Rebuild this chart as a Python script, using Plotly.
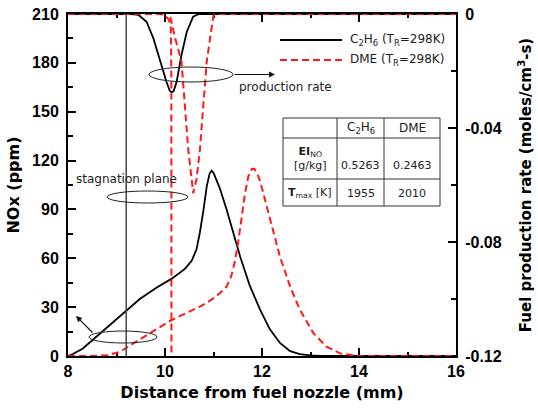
import plotly.graph_objects as go

# ---------------- data ----------------
# NOx (ppm) vs distance from fuel nozzle (mm)
c2h6_nox_x = [8.0, 8.1, 8.3, 8.52, 8.8, 9.14, 9.48, 9.83, 10.14, 10.41, 10.55, 10.65, 10.72, 10.79,
              10.86, 10.92, 10.96, 11.0, 11.06, 11.13, 11.27, 11.41, 11.55, 11.75, 11.96, 12.16,
              12.37, 12.58, 12.78, 12.99, 13.2, 16.0]
c2h6_nox_y = [0, 1.2, 4.5, 10.3, 17.5, 26.5, 35, 42, 47.5, 53.5, 58.5, 65.5, 76, 89,
              104, 112, 113.8, 112.5, 108, 103, 90, 75, 61, 43, 28.5, 16.5,
              8, 3, 1.2, 0.4, 0, 0]

dme_nox_x = [8.0, 8.5, 8.8, 9.07, 9.35, 9.62, 9.9, 10.1, 10.3, 10.5, 10.72, 10.93, 11.13, 11.27,
             11.37, 11.44, 11.51, 11.58, 11.65, 11.72, 11.79, 11.84, 11.9, 11.96, 12.16, 12.37,
             12.58, 12.78, 13.06, 13.33, 13.61, 13.81, 14.0, 16.0]
dme_nox_y = [0, 0, 0.5, 2.5, 7.8, 12.8, 17.5, 21.5, 24.5, 27.5, 30.3, 34, 38.5, 42.5,
             49.5, 58, 70, 85, 100, 110.5, 114.8, 115, 112, 107.5, 84, 61,
             42.6, 28.5, 14, 5.7, 1.6, 0.6, 0, 0]

# Fuel production rate (moles/cm3-s)
c2h6_rate_x = [8.0, 9.3, 9.45, 9.62, 9.76, 9.9, 10.03, 10.1, 10.14, 10.18, 10.24, 10.34, 10.45,
               10.58, 10.7, 16.0]
c2h6_rate_y = [0, 0, -0.0003, -0.0027, -0.0085, -0.0167, -0.0238, -0.027, -0.0275, -0.027,
               -0.0238, -0.0144, -0.0062, -0.0009, 0, 0]

dme_rate_x = [8.0, 9.9, 10.0, 10.08, 10.12, 10.13, 10.137, None, 10.11, 10.21, 10.34, 10.48,
              10.55, 10.58, 10.65, 10.72, 10.79, 10.86, 10.93, 11.0, 11.05, 16.0]
dme_rate_y = [0, 0, -0.0005, -0.002, -0.005, -0.02, -0.25, None, -0.001, -0.0085, -0.0167, -0.0477,
              -0.058, -0.0629, -0.058, -0.0477, -0.032, -0.0167, -0.0085, -0.0005, 0, 0]

stagnation_x = 9.2

x_ticks = [8, 10, 12, 14, 16]
x_minor = [9, 11, 13, 15]
y_ticks = [0, 30, 60, 90, 120, 150, 180, 210]
y_minor = [15, 45, 75, 105, 135, 165, 195]
y2_ticks = [0, -0.04, -0.08, -0.12]
y2_ticktext = ["0", "-0.04", "-0.08", "-0.12"]
y2_minor = [-0.02, -0.06, -0.10]

legend_names = ["C<sub>2</sub>H<sub>6</sub> (T<sub>R</sub>=298K)", "DME (T<sub>R</sub>=298K)"]
table_cols = ["C<sub>2</sub>H<sub>6</sub>", "DME"]
table_rows = ["<b>EI</b><sub>NO</sub><br>[g/kg]", "<b>T</b><sub>max</sub> [K]"]
table_vals = [["0.5263", "0.2463"], ["1955", "2010"]]

# ---------------- layout helpers (pixel -> paper) ----------------
W, H = 538, 410
L, R, T, B = 68, 82, 14, 54
PW, PH = W - L - R, H - T - B


def px(p):
    return (p - L) / PW


def py(p):
    return (H - B - p) / PH


TICKFONT = dict(family="Liberation Sans, Arial", size=16, color="black", weight="bold")
TITLEFONT = dict(family="DejaVu Sans", size=16, color="black", weight="bold")
RTITLEFONT = dict(family="DejaVu Sans", size=15, color="black", weight="bold")
SMALL = dict(family="DejaVu Sans", size=12, color="#222")
TABLEF = dict(family="DejaVu Sans", size=11, color="#222")

fig = go.Figure()

fig.add_trace(go.Scatter(x=c2h6_nox_x, y=c2h6_nox_y, mode="lines",
                         line=dict(color="black", width=1.8), showlegend=False))
fig.add_trace(go.Scatter(x=dme_nox_x, y=dme_nox_y, mode="lines",
                         line=dict(color="#ff1a1a", width=2, dash="7px,4px"), showlegend=False))
fig.add_trace(go.Scatter(x=c2h6_rate_x, y=c2h6_rate_y, mode="lines", yaxis="y2",
                         line=dict(color="black", width=1.8), showlegend=False))
fig.add_trace(go.Scatter(x=dme_rate_x, y=dme_rate_y, mode="lines", yaxis="y2", connectgaps=False,
                         line=dict(color="#ff1a1a", width=2, dash="7px,4px"), showlegend=False))

fig.add_vline(x=stagnation_x, line=dict(color="#444", width=1.5))

shapes = []
annotations = []

# legend (manual)
for i, (name, col, dash) in enumerate(zip(legend_names, ["black", "#ff1a1a"], ["solid", "7px,4px"])):
    yy = 40 + 20 * i
    shapes.append(dict(type="line", xref="paper", yref="paper", x0=px(280), x1=px(342),
                       y0=py(yy), y1=py(yy), line=dict(color=col, width=2, dash=dash)))
    annotations.append(dict(xref="paper", yref="paper", x=px(348), y=py(yy), text=name,
                            showarrow=False, xanchor="left", yanchor="middle", font=SMALL))

# table
tl, tr, tt, tb = 283, 440, 118, 206
shapes.append(dict(type="rect", xref="paper", yref="paper", x0=px(tl), x1=px(tr), y0=py(tt), y1=py(tb),
                   line=dict(color="#333", width=1)))
for yy in [138, 179]:
    shapes.append(dict(type="line", xref="paper", yref="paper", x0=px(tl), x1=px(tr), y0=py(yy), y1=py(yy),
                       line=dict(color="#333", width=1)))
for xx in [337, 384]:
    shapes.append(dict(type="line", xref="paper", yref="paper", x0=px(xx), x1=px(xx), y0=py(tt), y1=py(tb),
                       line=dict(color="#333", width=1)))
col_c = [360.5, 412]
row_c = [159, 193]
for j, c in enumerate(table_cols):
    annotations.append(dict(xref="paper", yref="paper", x=px(col_c[j]), y=py(128), text=c,
                            showarrow=False, xanchor="center", yanchor="middle", font=SMALL))
for i, r in enumerate(table_rows):
    annotations.append(dict(xref="paper", yref="paper", x=px(310), y=py(row_c[i]), text=r,
                            showarrow=False, xanchor="center", yanchor="middle", font=TABLEF))
    for j in range(2):
        annotations.append(dict(xref="paper", yref="paper", x=px(col_c[j]), y=py(row_c[i] + (6 if i == 0 else 0)),
                                text=table_vals[i][j], showarrow=False, xanchor="center",
                                yanchor="middle", font=TABLEF))

# ellipses
for (x0, x1, y0, y1) in [(149, 233, 67, 82), (107, 188, 191, 203), (89, 157, 331, 343)]:
    shapes.append(dict(type="circle", xref="paper", yref="paper", x0=px(x0), x1=px(x1),
                       y0=py(y1), y1=py(y0), line=dict(color="#222", width=1)))

# arrows and labels
annotations.append(dict(xref="paper", yref="paper", x=px(275), y=py(74.5), ax=233 - 275, ay=0,
                        text="", showarrow=True, arrowhead=2, arrowsize=1, arrowwidth=1.2,
                        arrowcolor="#111"))
annotations.append(dict(xref="paper", yref="paper", x=px(76), y=py(316), ax=94 - 76, ay=334 - 316,
                        text="", showarrow=True, arrowhead=2, arrowsize=1, arrowwidth=1.2,
                        arrowcolor="#111"))
annotations.append(dict(xref="paper", yref="paper", x=px(285), y=py(87), text="production rate",
                        showarrow=False, xanchor="center", yanchor="middle", font=SMALL))
annotations.append(dict(xref="paper", yref="paper", x=px(126.5), y=py(179), text="stagnation plane",
                        showarrow=False, xanchor="center", yanchor="middle", font=SMALL))

fig.update_layout(
    width=W, height=H,
    margin=dict(l=L, r=R, t=T, b=B, pad=0, autoexpand=False),
    paper_bgcolor="white", plot_bgcolor="white",
    showlegend=False,
    shapes=fig.layout.shapes + tuple(shapes),
    annotations=annotations,
    xaxis=dict(range=[8, 16], tickvals=x_ticks, ticks="inside", ticklen=8, tickwidth=1.5,
               tickcolor="black", showline=True, linewidth=2, linecolor="black", mirror="ticks",
               showgrid=False, zeroline=False, tickfont=TICKFONT, layer="below traces",
               automargin=False,
               minor=dict(tickvals=x_minor, ticks="inside", ticklen=4, tickwidth=1.5, tickcolor="black",
                          showgrid=False),
               title=dict(text="Distance from fuel nozzle (mm)", font=TITLEFONT, standoff=8)),
    yaxis=dict(range=[0, 210], tickvals=y_ticks, ticks="inside", ticklen=8, tickwidth=1.5,
               tickcolor="black", showline=True, linewidth=2, linecolor="black",
               showgrid=False, zeroline=False, tickfont=TICKFONT, layer="below traces",
               ticklabelstandoff=4, automargin=False,
               minor=dict(tickvals=y_minor, ticks="inside", ticklen=5, tickwidth=1.5, tickcolor="black",
                          showgrid=False),
               title=dict(text="NOx (ppm)", font=TITLEFONT, standoff=8)),
    yaxis2=dict(range=[-0.12, 0], overlaying="y", side="right", tickvals=y2_ticks, ticktext=y2_ticktext,
                ticks="inside", ticklen=8, tickwidth=1.5, tickcolor="black", showline=True,
                linewidth=2, linecolor="black", showgrid=False, zeroline=False, tickfont=TICKFONT,
                layer="below traces", ticklabelstandoff=4, automargin=False,
                minor=dict(tickvals=y2_minor, ticks="inside", ticklen=5, tickwidth=1.5, tickcolor="black",
                           showgrid=False),
                title=dict(text="Fuel production rate (moles/cm<sup>3</sup>-s)", font=RTITLEFONT, standoff=20)),
)

fig.write_html("out.html")
